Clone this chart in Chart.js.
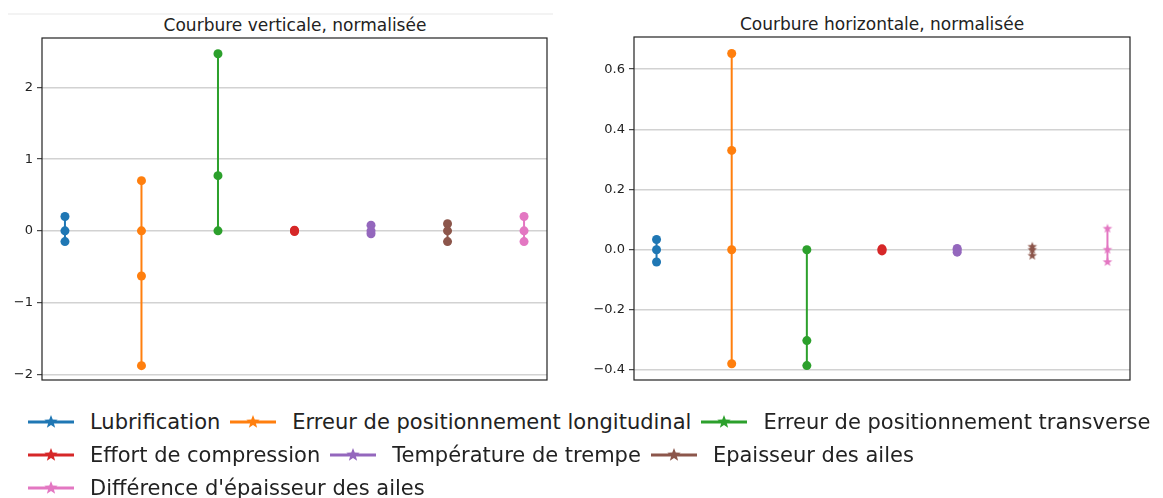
<!DOCTYPE html>
<html lang="fr">
<head>
<meta charset="utf-8">
<title>Courbures normalisées</title>
<script src="https://cdn.jsdelivr.net/npm/chart.js@4/dist/chart.umd.min.js"></script>
<style>
    html, body { margin: 0; padding: 0; background: #fff; }
    body { width: 1163px; height: 498px; position: relative; overflow: hidden; font-family: "DejaVu Sans", sans-serif; color: #222; }
    canvas.graphe { position: absolute; top: 0; }
    .titre { position: absolute; top: 15px; font-size: 17px; line-height: 20px; transform: translateX(-50%); white-space: nowrap; color: #222; }
    .trait-haut { position: absolute; left: 8px; top: 13px; width: 545px; height: 2px; background: #f3f3f3; }
    #legende { position: absolute; left: 28px; top: 405px; width: 1135px; display: flex; flex-wrap: wrap; column-gap: 10px; font-size: 21px; }
    .item { display: inline-flex; align-items: center; height: 33px; white-space: nowrap; }
    .item canvas { margin-right: 16px; }
</style>
</head>
<body>
<div class="trait-haut"></div>
<div class="titre" style="left:295px">Courbure verticale, normalisée</div>
<div class="titre" style="left:882px;top:14px">Courbure horizontale, normalisée</div>
<canvas id="graphVertical" class="graphe" width="560" height="395" style="left:0"></canvas>
<canvas id="graphHorizontal" class="graphe" width="580" height="395" style="left:570px"></canvas>
<div id="legende"></div>

<script>
// categories (une colonne de points par facteur)
const categories = [
    "Lubrification",
    "Erreur de positionnement longitudinal",
    "Erreur de positionnement transverse",
    "Effort de compression",
    "Température de trempe",
    "Epaisseur des ailes",
    "Différence d'épaisseur des ailes",
];

const courbureVerticale = [
    [0.2, 0, -0.15],
    [0.7, 0, -0.63, -1.88],
    [2.47, 0.77, 0],
    [0.01, 0, -0.01],
    [0.08, 0, -0.04],
    [0.1, 0, -0.15],
    [0.2, 0, -0.15],
];

const courbureHorizontale = [
    [0.034, 0, -0.041],
    [0.652, 0.33, 0, -0.379],
    [0, -0.302, -0.385],
    [0.003, 0, -0.004],
    [0.004, 0, -0.008],
    [0.01, 0, -0.02],
    [0.07, 0, -0.041],
];

// graduations de l'axe y
const ticksVertical = { min: -2.08, max: 2.69, pas: 1 };
const ticksHorizontal = { min: -0.433, max: 0.707, pas: 0.2 };

// palette tab10
const couleurs = ["#1f77b4", "#ff7f0e", "#2ca02c", "#d62728", "#9467bd", "#8c564b", "#e377c2"];

/**
 * dessine une etoile pleine a 5 branches dans un petit canvas
 */
function creerEtoile(couleur, rayon) {
    const taille = Math.ceil(rayon * 2 + 2);
    const c = document.createElement("canvas");
    c.width = taille;
    c.height = taille;
    const ctx = c.getContext("2d");
    ctx.fillStyle = couleur;
    ctx.beginPath();
    for (let i = 0; i < 10; i++) {
        const r = i % 2 === 0 ? rayon : rayon * 0.42;
        const ang = -Math.PI / 2 + i * Math.PI / 5;
        ctx.lineTo(taille / 2 + r * Math.cos(ang), taille / 2 + r * Math.sin(ang));
    }
    ctx.closePath();
    ctx.fill();
    return c;
}

// cadre complet autour de la zone de trace
const pluginCadre = {
    id: "cadre",
    afterDraw(chart) {
        const { ctx, chartArea: a } = chart;
        ctx.save();
        ctx.strokeStyle = "#222";
        ctx.lineWidth = 1.2;
        ctx.strokeRect(a.left, a.top, a.right - a.left, a.bottom - a.top);
        ctx.restore();
    },
};

function formaterTick(valeur, decimales) {
    return valeur.toFixed(decimales).replace("-", "\u2212");
}

/**
 * cree un graphe de points relies verticalement
 */
function creerGraphe(canvasId, valeurs, ticks, largeurAxe, padding, decimales, etoiles) {
    const datasets = categories.map((nom, i) => ({
        label: nom,
        data: valeurs[i].map(v => ({ x: i, y: v })),
        showLine: true,
        borderColor: couleurs[i],
        backgroundColor: couleurs[i],
        borderWidth: 2,
        pointRadius: etoiles[i] ? 5 : 4.5,
        pointBorderWidth: 0,
        pointStyle: etoiles[i] ? creerEtoile(couleurs[i], 5) : "circle",
    }));

    return new Chart(document.getElementById(canvasId), {
        type: "scatter",
        data: { datasets },
        options: {
            responsive: false,
            animation: false,
            events: [],
            layout: { padding },
            plugins: { legend: { display: false }, tooltip: { enabled: false }, title: { display: false } },
            scales: {
                x: { type: "linear", min: -0.3, max: 6.3, display: false },
                y: {
                    min: ticks.min,
                    max: ticks.max,
                    afterFit: (scale) => { scale.width = largeurAxe; },
                    border: { display: false },
                    grid: { color: "#d2d2d2", lineWidth: 1.4, tickColor: "#222", tickWidth: 1, tickLength: 5 },
                    ticks: {
                        stepSize: ticks.pas,
                        includeBounds: false,
                        padding: 4,
                        color: "#222",
                        font: { family: "DejaVu Sans", size: 13 },
                        callback: (v) => formaterTick(v, decimales),
                    },
                },
            },
        },
        plugins: [pluginCadre],
    });
}

creerGraphe("graphVertical", courbureVerticale, ticksVertical, 42,
    { left: 0, top: 38, right: 13, bottom: 15 }, 0,
    [false, false, false, false, false, false, false]);

creerGraphe("graphHorizontal", courbureHorizontale, ticksHorizontal, 64,
    { left: 0, top: 37, right: 20, bottom: 15 }, 1,
    [false, false, false, false, false, true, true]);

// legende commune aux deux graphes
const legende = document.getElementById("legende");
categories.forEach((nom, i) => {
    const item = document.createElement("div");
    item.className = "item";
    const icone = document.createElement("canvas");
    icone.width = 46;
    icone.height = 20;
    const ctx = icone.getContext("2d");
    ctx.strokeStyle = couleurs[i];
    ctx.lineWidth = 3;
    ctx.beginPath();
    ctx.moveTo(0, 10);
    ctx.lineTo(46, 10);
    ctx.stroke();
    ctx.drawImage(creerEtoile(couleurs[i], 7), 23 - 8, 10 - 8);
    const texte = document.createElement("span");
    texte.textContent = nom;
    item.appendChild(icone);
    item.appendChild(texte);
    legende.appendChild(item);
});
</script>
</body>
</html>
